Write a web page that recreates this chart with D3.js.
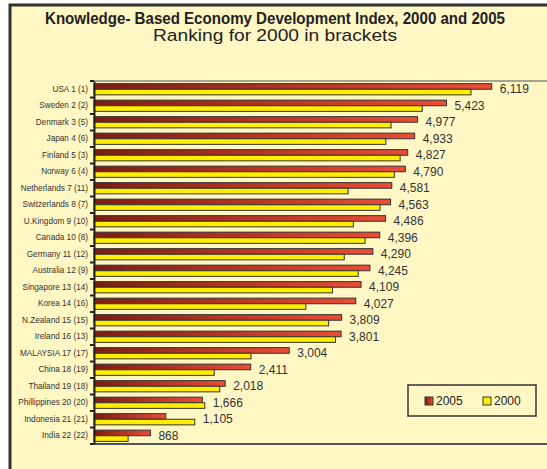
<!DOCTYPE html>
<html>
<head>
<meta charset="utf-8">
<script src="https://cdn.jsdelivr.net/npm/d3@7"></script>
<style>
  html, body { margin: 0; padding: 0; background: #fff; }
  svg { display: block; }
</style>
</head>
<body>
<script>
// Knowledge-based economy index, countries ranked by 2005 score
var countries = ["USA 1 (1)", "Sweden 2 (2)", "Denmark 3 (5)", "Japan 4 (6)", "Finland 5 (3)",
  "Norway 6 (4)", "Netherlands 7 (11)", "Switzerlands 8 (7)", "U.Kingdom 9 (10)", "Canada 10 (8)",
  "Germany 11 (12)", "Australia 12 (9)", "Singapore 13 (14)", "Korea 14 (16)", "N.Zealand 15 (15)",
  "Ireland 16 (13)", "MALAYSIA 17 (17)", "China 18 (19)", "Thailand 19 (18)", "Phillippines 20 (20)",
  "Indonesia 21 (21)", "India 22 (22)"]
var values2005 = [6119, 5423, 4977, 4933, 4827, 4790, 4581, 4563, 4486, 4396, 4290, 4245,
  4109, 4027, 3809, 3801, 3004, 2411, 2018, 1666, 1105, 868]
// 2000 values are not labelled
var values2000 = [5800, 5050, 4570, 4490, 4710, 4620, 3910, 4400, 3990, 4170, 3850, 4065,
  3670, 3260, 3610, 3715, 2415, 1850, 1935, 1705, 1550, 525]
var seriesNames = ["2005", "2000"]

var width = 547, height = 469
var svg = d3.select("body").append("svg")
  .attr("width", width)
  .attr("height", height)

// gradient for the 2005 bars (dark on the left, bright red on the right)
var defs = svg.append("defs")
var grad = defs.append("linearGradient").attr("id", "red")
  .attr("x1", 0).attr("x2", 1).attr("y1", 0).attr("y2", 0)
grad.append("stop").attr("offset", "0%").attr("stop-color", "#7d1c12")
grad.append("stop").attr("offset", "100%").attr("stop-color", "#ec4c34")

// background with frame (only left and top edges are visible)
svg.append("rect")
  .attr("x", 10).attr("y", 5)
  .attr("width", 560).attr("height", 500)
  .attr("fill", "#fff8c4")
  .attr("stroke", "#333")
  .attr("stroke-width", 3)

// titles
svg.append("text")
  .attr("x", 275).attr("y", 24)
  .attr("text-anchor", "middle")
  .attr("font-family", "'Liberation Sans', Arial, sans-serif")
  .attr("font-weight", "bold")
  .attr("font-size", 16)
  .attr("fill", "#222")
  .attr("textLength", 460)
  .attr("lengthAdjust", "spacingAndGlyphs")
  .text("Knowledge- Based Economy Development Index, 2000 and 2005")

svg.append("text")
  .attr("x", 275).attr("y", 41)
  .attr("text-anchor", "middle")
  .attr("font-family", "'Liberation Sans', Arial, sans-serif")
  .attr("font-size", 17)
  .attr("fill", "#222")
  .attr("textLength", 244)
  .attr("lengthAdjust", "spacingAndGlyphs")
  .text("Ranking for 2000 in brackets")

var plotLeft = 94, plotTop = 81, plotBottom = 444

var x = d3.scaleLinear().domain([0, 7000]).range([plotLeft, 549])
var y = d3.scaleBand().domain(countries).range([plotTop, plotBottom]).paddingInner(0.32).paddingOuter(0.16)
var ySub = d3.scaleBand().domain(seriesNames).range([0, y.bandwidth()])
var fills = { "2005": "url(#red)", "2000": "#ffee00" }

// plot frame lines
svg.append("line")
  .attr("x1", plotLeft).attr("x2", width)
  .attr("y1", plotTop).attr("y2", plotTop)
  .attr("stroke", "#8a8a80").attr("stroke-width", 1.5)
svg.append("line")
  .attr("x1", plotLeft).attr("x2", width)
  .attr("y1", plotBottom).attr("y2", plotBottom)
  .attr("stroke", "#555").attr("stroke-width", 2)

var rows = countries.map(function(c, i) {
  return { name: c, v2005: values2005[i], v2000: values2000[i] }
})

var groups = svg.selectAll("g.row")
  .data(rows)
  .enter().append("g")
  .attr("class", "row")
  .attr("transform", function(d) { return "translate(0," + y(d.name) + ")" })

groups.selectAll("rect")
  .data(function(d) {
    return seriesNames.map(function(s) { return { s: s, v: d["v" + s] } })
  })
  .enter().append("rect")
  .attr("x", plotLeft)
  .attr("y", function(d) { return ySub(d.s) })
  .attr("width", function(d) { return x(d.v) - plotLeft })
  .attr("height", ySub.bandwidth())
  .attr("fill", function(d) { return fills[d.s] })
  .attr("stroke", "#333")
  .attr("stroke-width", 1)

// value labels (2005 only)
groups.append("text")
  .attr("x", function(d) { return x(Math.max(d.v2005, d.v2000)) + 8 })
  .attr("y", y.bandwidth() / 2)
  .attr("dy", "0.35em")
  .attr("font-family", "'Liberation Sans', Arial, sans-serif")
  .attr("font-size", 12)
  .attr("fill", "#333")
  .text(function(d) { return d3.format(",")(d.v2005) })

// category axis with ticks at band boundaries
var yAxis = d3.axisLeft(y).tickSize(0).tickPadding(6)
var ax = svg.append("g")
  .attr("transform", "translate(" + plotLeft + ",0)")
  .call(yAxis)
ax.select(".domain").attr("stroke", "#222").attr("stroke-width", 2)
ax.selectAll("text")
  .attr("font-family", "'Liberation Sans', Arial, sans-serif")
  .attr("font-size", 8.2)
  .attr("fill", "#333")

var bounds = d3.range(countries.length + 1).map(function(i) {
  return plotTop + i * (plotBottom - plotTop) / countries.length
})
ax.selectAll("line.bound")
  .data(bounds)
  .enter().append("line")
  .attr("class", "bound")
  .attr("x1", -4).attr("x2", 0)
  .attr("y1", function(d) { return d }).attr("y2", function(d) { return d })
  .attr("stroke", "#222").attr("stroke-width", 2)

// legend
var legend = svg.append("g").attr("transform", "translate(408,385)")
legend.append("rect")
  .attr("width", 128).attr("height", 31)
  .attr("fill", "#fff8c4")
  .attr("stroke", "#333").attr("stroke-width", 1.5)
var items = legend.selectAll("g.item")
  .data(seriesNames)
  .enter().append("g")
  .attr("class", "item")
  .attr("transform", function(d, i) { return "translate(" + (17 + i * 58) + ",12)" })
items.append("rect")
  .attr("width", 8).attr("height", 8)
  .attr("fill", function(d) { return fills[d] })
  .attr("stroke", "#333").attr("stroke-width", 1)
items.append("text")
  .attr("x", 11).attr("y", 4)
  .attr("dy", "0.36em")
  .attr("font-family", "'Liberation Sans', Arial, sans-serif")
  .attr("font-size", 12)
  .attr("fill", "#222")
  .text(function(d) { return d })
</script>
</body>
</html>
